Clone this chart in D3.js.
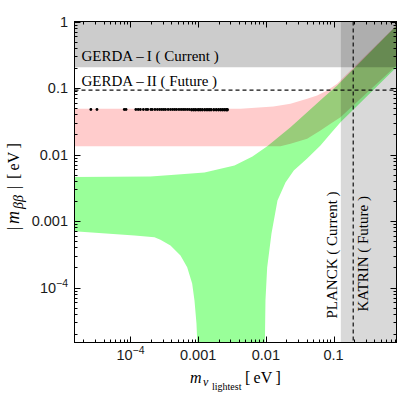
<!DOCTYPE html>
<html>
<head>
<meta charset="utf-8">
<script src="https://cdn.jsdelivr.net/npm/d3@7"></script>
<style>
  body { margin: 0; background: #fff; }
  svg { display: block; }
</style>
</head>
<body>
<svg id="chart" width="400" height="398"></svg>
<script>
// axis ranges (eV)
const xDomain = [1.49e-5, 0.85];
const yDomain = [1.49e-5, 1];

// normal hierarchy (green) outline
const nhUpper = [[1.4e-5, 0.00459], [1.97e-4, 0.00467], [4.47e-4, 0.00495], [1.24e-3, 0.00536],
  [3.44e-3, 0.00684], [6.34e-3, 0.00933], [0.0106, 0.0134], [0.0231, 0.0257], [0.0407, 0.0433],
  [0.0716, 0.0727], [0.113, 0.109], [0.9, 0.92]];
const nhRightLower = [[0.9, 0.218], [0.1265, 0.0306], [0.09, 0.0205], [0.064, 0.01365],
  [0.0407, 0.00871], [0.02584, 0.00575], [0.01948, 0.00379], [0.01484, 0.00203], [0.0121, 6.49e-4],
  [0.01045, 2.0e-4], [0.00986, 6.38e-5], [0.00964, 1.2e-5]];
const nhLeftLower = [[9.77e-4, 1.2e-5], [9.44e-4, 2.88e-5], [8.82e-4, 6.38e-5], [8.15e-4, 1.15e-4],
  [6.88e-4, 2.02e-4], [5.48e-4, 3.03e-4], [3.9e-4, 4.28e-4], [2.77e-4, 5.21e-4], [2.26e-4, 5.71e-4],
  [1.15e-4, 6.05e-4], [1.4e-5, 7.03e-4]];

// inverted hierarchy (pink) outline
const ihUpper = [[1.4e-5, 0.0487], [4.22e-3, 0.0487], [0.01294, 0.0527], [0.0231, 0.0579],
  [0.0407, 0.0688], [0.0572, 0.0771], [0.0804, 0.0917], [0.113, 0.1157], [0.15, 0.154], [0.9, 0.93]];
const ihLower = [[0.9, 0.23], [0.1265, 0.0364], [0.09, 0.029], [0.064, 0.023], [0.0407, 0.0172],
  [0.0231, 0.01448], [0.01643, 0.01333], [1.4e-5, 0.01333]];

// model points (black dots)
const dotMasses = [2.6e-5, 3.2e-5, 8.1e-5, 8.6e-5, 1.2e-4, 1.3e-4, 1.4e-4, 1.55e-4, 1.7e-4, 1.8e-4,
  2.0e-4, 2.1e-4, 2.3e-4, 2.5e-4, 2.7e-4, 2.9e-4, 3.1e-4, 3.3e-4, 3.6e-4, 3.9e-4, 4.2e-4, 4.5e-4,
  4.8e-4, 5.2e-4, 5.6e-4, 6.0e-4, 6.4e-4, 6.9e-4, 7.4e-4, 8.0e-4, 8.6e-4, 9.2e-4, 1.0e-3, 1.07e-3,
  1.15e-3, 1.25e-3, 1.35e-3, 1.45e-3, 1.55e-3, 1.7e-3, 1.85e-3, 2.0e-3, 2.15e-3, 2.3e-3, 2.45e-3,
  2.6e-3, 2.7e-3];
const dotLevels = [0.0475, 0.0466];   // second row only where the band of dots is thicker
const thickFrom = 8.0e-4;

// experimental limits
const gerdaI = 0.205;
const gerdaII = 0.0928;
const planck = 0.128;
const katrin = 0.195;

const xTickVals = [1e-4, 1e-3, 1e-2, 0.1];
const xTickLabels = [["10", "\u22124"], ["0.001"], ["0.01"], ["0.1"]];
const yTickVals = [1, 0.1, 0.01, 0.001, 1e-4];
const yTickLabels = [["1"], ["0.1"], ["0.01"], ["0.001"], ["10", "\u22124"]];

const svg = d3.select("#chart");
const x = d3.scaleLog().domain(xDomain).range([74.5, 396.5]);
const y = d3.scaleLog().domain(yDomain).range([342.5, 21.5]);
const [x0, x1] = x.range();
const [y0, y1] = y.range();

svg.append("rect").attr("width", 400).attr("height", 398).attr("fill", "#fff");

svg.append("clipPath").attr("id", "plot")
  .append("rect").attr("x", x0).attr("y", y1).attr("width", x1 - x0).attr("height", y0 - y1);

const plot = svg.append("g").attr("clip-path", "url(#plot)");
const area = d3.line().x(d => x(d[0])).y(d => y(d[1]));

plot.append("path")
  .attr("d", area(ihUpper.concat(ihLower)) + "Z")
  .attr("fill", "#ffcccc");

plot.append("path")
  .attr("d", area(nhUpper.concat(nhRightLower, nhLeftLower)) + "Z")
  .attr("fill", "#99ff99")
  .style("mix-blend-mode", "multiply");

// excluded regions
plot.append("rect")
  .attr("x", x0).attr("width", x1 - x0)
  .attr("y", y(yDomain[1])).attr("height", y(gerdaI) - y(yDomain[1]))
  .attr("fill", "#000").attr("fill-opacity", 0.2);

plot.append("rect")
  .attr("x", x(planck)).attr("width", x(xDomain[1]) - x(planck))
  .attr("y", y1).attr("height", y0 - y1)
  .attr("fill", "#000").attr("fill-opacity", 0.15);

// dashed sensitivities
plot.append("line")
  .attr("x1", x0).attr("x2", x1).attr("y1", y(gerdaII)).attr("y2", y(gerdaII))
  .attr("stroke", "#111").attr("stroke-width", 1.2).attr("stroke-dasharray", "4,3");
plot.append("line")
  .attr("x1", x(katrin)).attr("x2", x(katrin)).attr("y1", y1).attr("y2", y0)
  .attr("stroke", "#111").attr("stroke-width", 1.2).attr("stroke-dasharray", "4,3");

// dots
const dots = [];
dotMasses.forEach(m => {
  dots.push([m, dotLevels[0]]);
  if (m >= thickFrom) dots.push([m, dotLevels[1]]);
});
plot.selectAll(".dot").data(dots).enter().append("circle")
  .attr("class", "dot")
  .attr("cx", d => x(d[0])).attr("cy", d => y(d[1]))
  .attr("r", 1.4).attr("fill", "#000");

// in-plot labels
const serif = "'Liberation Serif', 'Times New Roman', serif";
const sans = "'Liberation Sans', Arial, sans-serif";

svg.append("text").attr("x", 81.5).attr("y", 61)
  .attr("font-family", serif).attr("font-size", 15)
  .text("GERDA\u2009\u2013\u2009I  ( Current )");
svg.append("text").attr("x", 81.5).attr("y", 86)
  .attr("font-family", serif).attr("font-size", 15)
  .text("GERDA\u2009\u2013\u2009II  ( Future )");

svg.append("text")
  .attr("transform", "translate(336.5,318.5) rotate(-90)")
  .attr("font-family", serif).attr("font-size", 15)
  .text("PLANCK  ( Current )");
svg.append("text")
  .attr("transform", "translate(368,311.5) rotate(-90)")
  .attr("font-family", serif).attr("font-size", 15)
  .text("KATRIN  ( Future )");

// frame and ticks
svg.append("rect")
  .attr("x", x0).attr("y", y1).attr("width", x1 - x0).attr("height", y0 - y1)
  .attr("fill", "none").attr("stroke", "#000").attr("stroke-width", 1);

const isMajor = v => Math.abs(Math.log10(v) - Math.round(Math.log10(v))) < 1e-6;
const ticks = svg.append("g").attr("stroke", "#000").attr("stroke-width", 1);

x.ticks().forEach(v => {
  const len = isMajor(v) ? 6 : 3;
  const px = Math.round(x(v)) + 0.5;
  ticks.append("line").attr("x1", px).attr("x2", px).attr("y1", y0).attr("y2", y0 - len);
  ticks.append("line").attr("x1", px).attr("x2", px).attr("y1", y1).attr("y2", y1 + len);
});
y.ticks().forEach(v => {
  const len = isMajor(v) ? 6 : 3;
  const py = Math.round(y(v)) + 0.5;
  ticks.append("line").attr("y1", py).attr("y2", py).attr("x1", x0).attr("x2", x0 + len);
  ticks.append("line").attr("y1", py).attr("y2", py).attr("x1", x1).attr("x2", x1 - len);
});

function tickText(sel, parts) {
  sel.append("tspan").text(parts[0]);
  if (parts[1]) sel.append("tspan").attr("font-size", 10.5).attr("dy", -6).text(parts[1]);
}

xTickVals.forEach((v, i) => {
  const t = svg.append("text")
    .attr("x", x(v)).attr("y", 360)
    .attr("text-anchor", "middle")
    .attr("font-family", sans).attr("font-size", 14.5).attr("fill", "#1a1a1a");
  tickText(t, xTickLabels[i]);
});
yTickVals.forEach((v, i) => {
  const t = svg.append("text")
    .attr("x", 68).attr("y", y(v) + 5)
    .attr("text-anchor", "end")
    .attr("font-family", sans).attr("font-size", 14.5).attr("fill", "#1a1a1a");
  tickText(t, yTickLabels[i]);
});

// axis titles
const xt = svg.append("text").attr("y", 383)
  .attr("font-family", serif).attr("font-size", 16);
xt.append("tspan").attr("x", 190).attr("font-style", "italic").text("m");
xt.append("tspan").attr("x", 203).attr("font-style", "italic").attr("font-size", 12).attr("dy", 3).text("\u03bd");
xt.append("tspan").attr("x", 212).attr("font-size", 10).attr("dy", 4).text("lightest");
xt.append("tspan").attr("x", 245).attr("dy", -7).text("[\u2009eV\u2009]");

const yt = svg.append("text")
  .attr("transform", "translate(19,230) rotate(-90)")
  .attr("font-family", serif).attr("font-size", 16);
yt.append("tspan").attr("x", 0).text("|");
yt.append("tspan").attr("x", 6).attr("font-style", "italic").attr("font-size", 18).text("m");
yt.append("tspan").attr("x", 21).attr("font-style", "italic").attr("font-size", 14).attr("dy", 4).text("\u03b2\u03b2");
yt.append("tspan").attr("x", 41).attr("dy", -4).text("|");
yt.append("tspan").attr("x", 51).text("[\u2009eV\u2009]");
</script>
</body>
</html>
